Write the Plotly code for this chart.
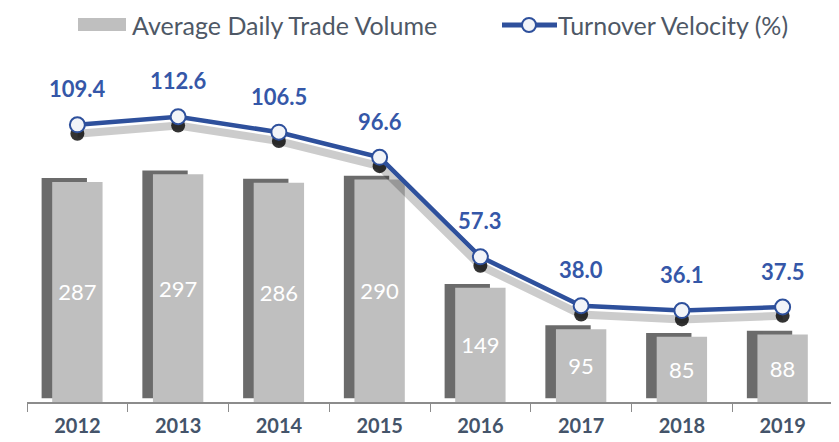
import plotly.graph_objects as go

years = ["2012", "2013", "2014", "2015", "2016", "2017", "2018", "2019"]
trade_volume = [287, 297, 286, 290, 149, 95, 85, 88]
turnover_velocity = [109.4, 112.6, 106.5, 96.6, 57.3, 38.0, 36.1, 37.5]

bar_name = "Average Daily Trade Volume"
line_name = "Turnover Velocity (%)"

FONT = "Lato"
BLUE = "#2E509C"
LABEL_BLUE = "#3557A8"
GRAY = "#BFBFBF"
TEXT_GRAY = "#4E5866"

fig = go.Figure()

# soft shadow behind the bars
fig.add_trace(go.Bar(
    x=years, y=trade_volume, base=5, width=0.45, offset=-0.355,
    marker=dict(color="#5c5c5c", line_width=0), opacity=0.9,
    hoverinfo="skip",
))
fig.add_trace(go.Bar(
    x=years, y=trade_volume, name=bar_name, width=0.5, offset=-0.25,
    marker=dict(color=GRAY, line_width=0),
    text=[str(v) for v in trade_volume], textposition="inside",
    insidetextanchor="middle",
    textfont=dict(family=FONT, size=22, color="white"),
))

# shadow under the line
fig.add_trace(go.Scatter(
    x=years, y=[v - 3.5 for v in turnover_velocity], yaxis="y2", mode="lines+markers",
    line=dict(color="rgba(0,0,0,0.2)", width=8),
    marker=dict(color="rgba(0,0,0,0.8)", size=14),
    hoverinfo="skip",
))
fig.add_trace(go.Scatter(
    x=years, y=turnover_velocity, yaxis="y2", name=line_name, mode="lines+markers",
    line=dict(color=BLUE, width=4.5),
    marker=dict(color="#F2F4F8", size=15, line=dict(color=BLUE, width=2)),
))

# category index is used so the year strings aren't read as numbers
for i, v in enumerate(turnover_velocity):
    fig.add_annotation(
        x=i, y=v, xref="x", yref="y2", yshift=36, showarrow=False,
        text=f"{v:.1f}", font=dict(family=FONT, size=22, color=LABEL_BLUE, weight="bold"),
    )


# hand-drawn legend to match the wide swatches (screen pixel -> paper)
def px_x(p):
    return (p - 27) / 806


def px_y(p):
    return (402 - p) / 342


fig.add_shape(type="rect", xref="paper", yref="paper",
              x0=px_x(78), x1=px_x(126), y0=px_y(31), y1=px_y(18),
              fillcolor=GRAY, line_width=0)
fig.add_annotation(xref="paper", yref="paper", x=px_x(130), y=px_y(25),
                   xanchor="left", yanchor="middle", showarrow=False,
                   text=bar_name, font=dict(family=FONT, size=25, color=TEXT_GRAY))
fig.add_shape(type="line", xref="paper", yref="paper",
              x0=px_x(502), x1=px_x(557), y0=px_y(25), y1=px_y(25),
              line=dict(color=BLUE, width=5))
fig.add_shape(type="circle", xref="paper", yref="paper",
              x0=px_x(522), x1=px_x(536), y0=px_y(32), y1=px_y(18),
              fillcolor="#F2F4F8", line=dict(color=BLUE, width=2))
fig.add_annotation(xref="paper", yref="paper", x=px_x(556), y=px_y(25),
                   xanchor="left", yanchor="middle", showarrow=False,
                   text=line_name, font=dict(family=FONT, size=25, color=TEXT_GRAY))

# the page body adds an 8px offset, margins compensate for it
fig.update_layout(
    width=839, height=442,
    margin=dict(l=19, r=14, t=52, b=48),
    paper_bgcolor="white", plot_bgcolor="white",
    barmode="overlay", showlegend=False,
    font=dict(family=FONT),
    xaxis=dict(
        type="category", showline=True, linecolor="#8C8C8C", linewidth=1.5,
        ticks="outside", tickson="boundaries", ticklen=8, tickcolor="#8C8C8C",
        showgrid=False, zeroline=False, range=[-0.5, 7.5], ticklabelstandoff=5,
        tickfont=dict(family=FONT, size=20, color="#44546A", weight="bold"),
    ),
    yaxis=dict(range=[0, 446], visible=False, showgrid=False, fixedrange=True),
    yaxis2=dict(range=[0, 135], overlaying="y", visible=False, showgrid=False),
)

fig.write_html("out.html")
